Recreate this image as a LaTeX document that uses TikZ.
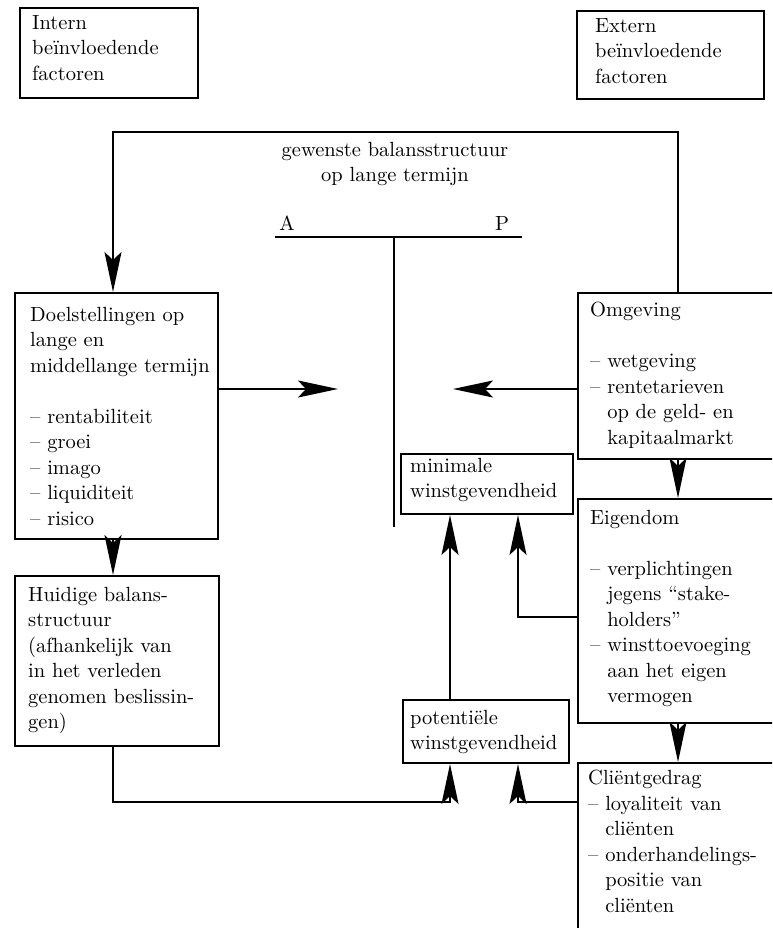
\documentclass[tikz,border=0pt]{standalone}
\usepackage{fontspec}
\setmainfont{lmroman10-regular.otf}
\usetikzlibrary{arrows.meta}
\begin{document}
\begin{tikzpicture}[x=1pt,y=-1pt,
  box/.style={draw, line width=2pt, inner sep=0pt, anchor=north west},
  txt/.style={anchor=north west, inner sep=0pt, align=left, font=\fontsize{20.5}{25.5}\selectfont},
  ctxt/.style={inner sep=0pt, align=center, font=\fontsize{20.5}{25.5}\selectfont},
  ln/.style={line width=2pt},
  arr/.style={line width=2pt, -{Stealth[length=40pt,width=17pt,inset=8pt]}},
]
\useasboundingbox (0,0) rectangle (772,928);
\clip (0,0) rectangle (772,928);

% boxes
\node[box, minimum width=178pt, minimum height=90pt] (intern) at (19,7) {};
\node[box, minimum width=187pt, minimum height=88pt] (extern) at (576,10) {};
\node[box, minimum width=203pt, minimum height=246pt] (doel) at (14,292) {};
\node[box, minimum width=204pt, minimum height=170pt] (hui) at (14,575) {};
\node[box, minimum width=220pt, minimum height=166pt] (omg) at (577,292) {};
\node[box, minimum width=220pt, minimum height=224pt] (eig) at (577,498) {};
\node[box, minimum width=220pt, minimum height=200pt] (cli) at (577,762) {};
\node[box, minimum width=172pt, minimum height=60pt] (mini) at (400,453) {};
\node[box, minimum width=166pt, minimum height=63pt] (pot) at (402,699) {};

% texts
\node[txt] (tintern) at (32,15) {Intern\\beïnvloedende\\factoren};
\node[txt] (textern) at (595,18) {Extern\\beïnvloedende\\factoren};
\node[txt] (tdoel) at (30,307) {Doelstellingen op\\lange en\\middellange termijn\\[25.5pt]
  – rentabiliteit\\– groei\\– imago\\– liquiditeit\\– risico};
\node[txt] (thui) at (28,587) {Huidige balans-\\structuur\\(afhankelijk van\\in het verleden\\genomen beslissin-\\gen)};
\node[txt] (tomg) at (590,302) {Omgeving\\[25.5pt]
  – wetgeving\\– rentetarieven\\\hphantom{–\ }op de geld- en\\\hphantom{–\ }kapitaalmarkt};
\node[txt] (teig) at (590,510) {Eigendom\\[25.5pt]
  – verplichtingen\\\hphantom{–\ }jegens ``stake-\\\hphantom{–\ }holders''\\– winsttoevoeging\\\hphantom{–\ }aan het eigen\\\hphantom{–\ }vermogen};
\node[txt] (tcli) at (588,770) {Cliëntgedrag\\– loyaliteit van\\\hphantom{–\ }cliënten\\– onderhandelings-\\\hphantom{–\ }positie van\\\hphantom{–\ }cliënten};
\node[txt] (tmini) at (410,458) {minimale\\winstgevendheid};
\node[txt] (tpot) at (410,710) {potentiële\\winstgevendheid};
\node[ctxt, anchor=north] (tgew) at (395,142) {gewenste balansstructuur\\op lange termijn};
\node[ctxt] (tA) at (287,223) {A};
\node[ctxt] (tP) at (502,223) {P};

% balance T
\draw[ln] (275,237) -- (522,237);
\draw[ln] (394,237) -- (394,527);

% connector coordinates
\coordinate (tr) at (678,132);
\coordinate (tl) at (113,132);
\coordinate (ha) at (338,389);
\coordinate (oa) at (453,389);
\coordinate (e1) at (518,617);
\coordinate (p1) at (450,700);
\coordinate (b1) at (113,802);
\coordinate (b2) at (450,802);
\coordinate (b3) at (518,802);

% connectors
\draw[arr] (omg.north -| tr) -- (tr) -- (tl) -- (doel.north -| tl);
\draw[arr] (doel.south -| tl) -- (hui.north -| tl);
\draw[arr] (doel.east |- ha) -- (ha);
\draw[arr] (omg.west |- oa) -- (oa);
\draw[arr] (omg.south -| tr) -- (eig.north -| tr);
\draw[arr] (eig.south -| tr) -- (cli.north -| tr);
\draw[arr] (eig.west |- e1) -- (e1) -- (mini.south -| e1);
\draw[arr] (pot.north -| p1) -- (mini.south -| p1);
\draw[arr] (hui.south -| b1) -- (b1) -- (b2) -- (pot.south -| b2);
\draw[arr] (cli.west |- b3) -- (b3) -- (pot.south -| b3);
\end{tikzpicture}
\end{document}
